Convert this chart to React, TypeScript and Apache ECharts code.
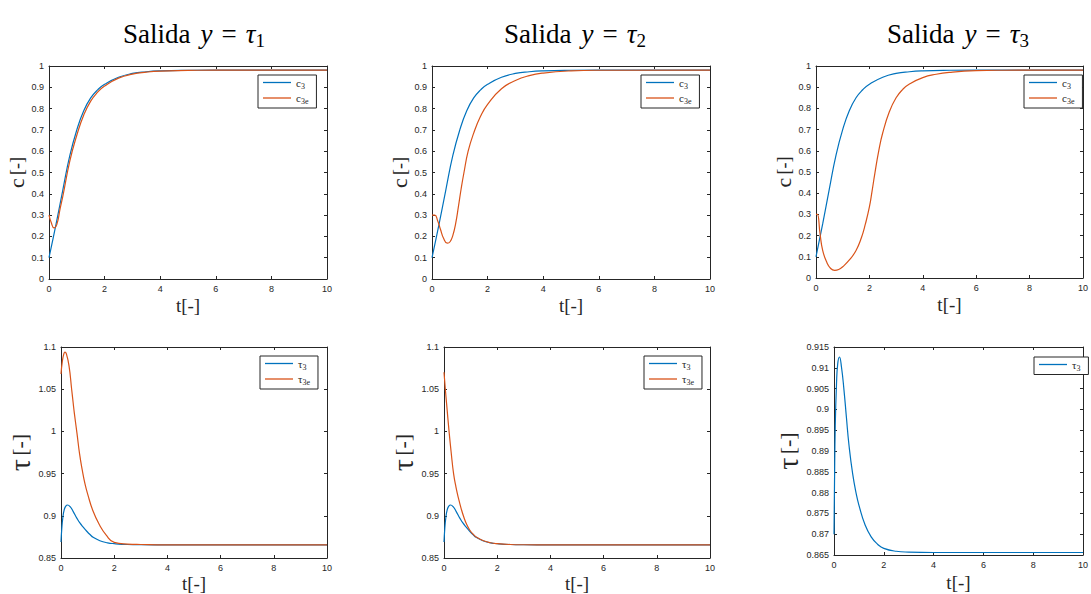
import React, { useEffect, useRef } from 'react';
import * as echarts from 'echarts';

// ---------- data ----------
const X_MIN = 0;
const X_MAX = 10;
const X_INTERVAL = 2;

// shared plant concentration c3 (top row, blue)
const T_C3 = [0, 0.25, 0.5, 0.75, 1, 1.25, 1.5, 1.75, 2, 2.5, 3, 3.5, 4, 5, 6, 8, 10];
const C3 = [0.1, 0.255, 0.42, 0.58, 0.7, 0.79, 0.85, 0.888, 0.914, 0.947, 0.965, 0.973, 0.977, 0.98, 0.981, 0.981, 0.981];

// estimate c3e, output y = tau1
const T_C3E_1 = [0, 0.08, 0.18, 0.28, 0.4, 0.5, 0.75, 1, 1.25, 1.5, 1.75, 2, 2.5, 3, 3.5, 4, 5, 6, 10];
const C3E_1 = [0.3, 0.265, 0.24, 0.255, 0.33, 0.39, 0.555, 0.675, 0.77, 0.835, 0.877, 0.906, 0.943, 0.962, 0.971, 0.976, 0.979, 0.981, 0.981];

// estimate c3e, output y = tau2
const T_C3E_2 = [0, 0.1, 0.2, 0.3, 0.42, 0.55, 0.65, 0.75, 0.85, 0.95, 1.05, 1.15, 1.3, 1.5, 1.75, 2, 2.5, 3, 3.5, 4, 5, 6, 10];
const C3E_2 = [0.3, 0.3, 0.275, 0.235, 0.19, 0.168, 0.175, 0.205, 0.26, 0.34, 0.425, 0.5, 0.6, 0.685, 0.765, 0.82, 0.893, 0.932, 0.955, 0.967, 0.977, 0.98, 0.981];

// estimate c3e, output y = tau3
const T_C3E_3 = [0, 0.05, 0.15, 0.25, 0.4, 0.55, 0.7, 0.85, 1, 1.25, 1.5, 1.7, 1.85, 2, 2.1, 2.2, 2.35, 2.5, 2.75, 3, 3.25, 3.5, 4, 4.5, 5, 6, 7, 10];
const C3E_3 = [0.3, 0.3, 0.21, 0.13, 0.075, 0.045, 0.036, 0.04, 0.053, 0.085, 0.13, 0.19, 0.255, 0.335, 0.41, 0.49, 0.6, 0.685, 0.785, 0.85, 0.89, 0.915, 0.945, 0.961, 0.97, 0.978, 0.98, 0.981];

// plant temperature tau3 (bottom left / middle, blue)
const T_TAU3 = [0, 0.03, 0.07, 0.12, 0.18, 0.25, 0.35, 0.46, 0.6, 0.71, 0.85, 0.96, 1.1, 1.21, 1.46, 1.75, 2, 2.5, 3, 4, 10];
const TAU3 = [0.869, 0.885, 0.898, 0.907, 0.9115, 0.9128, 0.9105, 0.905, 0.897, 0.8915, 0.886, 0.882, 0.8775, 0.8745, 0.8705, 0.868, 0.867, 0.866, 0.8657, 0.8656, 0.8656];

// estimate tau3e, output y = tau1
const T_TAU3E_1 = [0, 0.05, 0.1, 0.15, 0.2, 0.3, 0.4, 0.46, 0.5, 0.6, 0.7, 0.8, 0.9, 1, 1.2, 1.45, 1.7, 2, 2.5, 3, 4, 10];
const TAU3E_1 = [1.068, 1.083, 1.091, 1.094, 1.092, 1.078, 1.05, 1.033, 1.022, 0.998, 0.973, 0.954, 0.938, 0.926, 0.906, 0.889, 0.877, 0.8685, 0.8665, 0.866, 0.8656, 0.8656];

// estimate tau3e, output y = tau2
const T_TAU3E_2 = [0, 0.05, 0.1, 0.19, 0.27, 0.36, 0.45, 0.55, 0.65, 0.75, 0.85, 0.96, 1.1, 1.21, 1.46, 1.75, 2, 2.5, 3, 4, 10];
const TAU3E_2 = [1.07, 1.05, 1.032, 1.0, 0.975, 0.95, 0.934, 0.92, 0.908, 0.898, 0.89, 0.8835, 0.878, 0.8748, 0.8707, 0.8681, 0.867, 0.866, 0.8657, 0.8656, 0.8656];

// plant temperature tau3 (bottom right, blue)
const T_TAU3_R = [0, 0.02, 0.05, 0.1, 0.15, 0.22, 0.3, 0.4, 0.5, 0.6, 0.75, 0.9, 1, 1.25, 1.5, 1.75, 2, 2.5, 3, 4, 10];
const TAU3_R = [0.87, 0.882, 0.896, 0.906, 0.911, 0.9126, 0.9102, 0.9047, 0.898, 0.8915, 0.8845, 0.8795, 0.877, 0.8722, 0.8693, 0.8676, 0.8666, 0.8659, 0.8657, 0.8656, 0.8656];

const TITLE_SUBS = ['1', '2', '3'];

// ---------- styling ----------
const BLUE = '#0072BD';
const ORANGE = '#D95319';
const AXIS = '#262626';
const SERIF = '"Liberation Serif", "DejaVu Serif", serif';
const SANS = '"Liberation Sans", Arial, sans-serif';

const pairs = (t: number[], v: number[]) => t.map((x, i) => [x, v[i]]);

type Panel = {
  grid: { left: number; top: number; width: number; height: number };
  yMin: number;
  yMax: number;
  yInterval: number;
  ySym: string;
  yGap: number;
  xGap: number;
  legend: { left: number; top: number };
  series: { name: string; t: number[]; v: number[]; color: string }[];
};

export default function App() {
  const ref = useRef<HTMLDivElement>(null);

  useEffect(() => {
    const chart = echarts.init(ref.current!, null, { renderer: 'svg' });

    const panels: Panel[] = [
      {
        grid: { left: 49, top: 66, width: 278, height: 213 },
        yMin: 0, yMax: 1, yInterval: 0.1, ySym: 'c', yGap: 20, xGap: 17,
        legend: { left: 258, top: 75 },
        series: [
          { name: 'c3', t: T_C3, v: C3, color: BLUE },
          { name: 'c3e', t: T_C3E_1, v: C3E_1, color: ORANGE },
        ],
      },
      {
        grid: { left: 432, top: 66, width: 278, height: 213 },
        yMin: 0, yMax: 1, yInterval: 0.1, ySym: 'c', yGap: 17, xGap: 17,
        legend: { left: 641, top: 75 },
        series: [
          { name: 'c3', t: T_C3, v: C3, color: BLUE },
          { name: 'c3e', t: T_C3E_2, v: C3E_2, color: ORANGE },
        ],
      },
      {
        grid: { left: 816, top: 66, width: 276, height: 212 },
        yMin: 0, yMax: 1, yInterval: 0.1, ySym: 'c', yGap: 20, xGap: 17,
        legend: { left: 1024, top: 75 },
        series: [
          { name: 'c3', t: T_C3, v: C3, color: BLUE },
          { name: 'c3e', t: T_C3E_3, v: C3E_3, color: ORANGE },
        ],
      },
      {
        grid: { left: 61, top: 347, width: 266, height: 212 },
        yMin: 0.85, yMax: 1.1, yInterval: 0.05, ySym: 'τ', yGap: 24, xGap: 16,
        legend: { left: 260, top: 356 },
        series: [
          { name: 'τ3', t: T_TAU3, v: TAU3, color: BLUE },
          { name: 'τ3e', t: T_TAU3E_1, v: TAU3E_1, color: ORANGE },
        ],
      },
      {
        grid: { left: 444, top: 347, width: 266, height: 212 },
        yMin: 0.85, yMax: 1.1, yInterval: 0.05, ySym: 'τ', yGap: 24, xGap: 16,
        legend: { left: 644, top: 356 },
        series: [
          { name: 'τ3', t: T_TAU3, v: TAU3, color: BLUE },
          { name: 'τ3e', t: T_TAU3E_2, v: TAU3E_2, color: ORANGE },
        ],
      },
      {
        grid: { left: 834, top: 347, width: 258, height: 208 },
        yMin: 0.865, yMax: 0.915, yInterval: 0.005, ySym: 'τ', yGap: 32, xGap: 18,
        legend: { left: 1034, top: 357 },
        series: [{ name: 'τ3', t: T_TAU3_R, v: TAU3_R, color: BLUE }],
      },
    ];

    const tickStyle = { inside: true, length: 3, lineStyle: { color: AXIS, width: 1 } };
    const lineStyleAxis = { show: true, onZero: false, lineStyle: { color: AXIS, width: 1 } };
    const labelStyle = { fontSize: 9, color: AXIS, fontFamily: SANS };

    const grid: any[] = [];
    const xAxis: any[] = [];
    const yAxis: any[] = [];
    const series: any[] = [];
    const legend: any[] = [];

    panels.forEach((p, i) => {
      grid.push({ ...p.grid, containLabel: false });
      xAxis.push({
        type: 'value', gridIndex: i, min: X_MIN, max: X_MAX, interval: X_INTERVAL,
        axisLine: lineStyleAxis, axisTick: tickStyle, splitLine: { show: false },
        axisLabel: { ...labelStyle, margin: 5 },
        name: '{a|t}{b|[-]}', nameLocation: 'middle', nameGap: p.xGap,
        nameTextStyle: {
          rich: {
            a: { fontFamily: SERIF, fontSize: 19, color: AXIS },
            b: { fontFamily: SERIF, fontSize: 19, color: AXIS },
          },
        },
      });
      xAxis.push({
        type: 'value', gridIndex: i, position: 'top', min: X_MIN, max: X_MAX, interval: X_INTERVAL,
        axisLine: lineStyleAxis, axisTick: tickStyle, splitLine: { show: false },
        axisLabel: { show: false },
      });
      const big = p.ySym === 'τ';
      yAxis.push({
        type: 'value', gridIndex: i, min: p.yMin, max: p.yMax, interval: p.yInterval,
        axisLine: lineStyleAxis, axisTick: tickStyle, splitLine: { show: false },
        axisLabel: { ...labelStyle, margin: 5 },
        name: `{a|${p.ySym}} {b|[-]}`, nameLocation: 'middle', nameGap: p.yGap,
        nameTextStyle: {
          rich: {
            a: { fontFamily: SERIF, fontSize: big ? 30 : 22, color: AXIS },
            b: { fontFamily: SERIF, fontSize: big ? 22 : 18, color: AXIS },
          },
        },
      });
      yAxis.push({
        type: 'value', gridIndex: i, position: 'right', min: p.yMin, max: p.yMax, interval: p.yInterval,
        axisLine: lineStyleAxis, axisTick: tickStyle, splitLine: { show: false },
        axisLabel: { show: false },
      });
      p.series.forEach((s) => {
        series.push({
          type: 'line', name: s.name, xAxisIndex: 2 * i, yAxisIndex: 2 * i,
          data: pairs(s.t, s.v), smooth: 0.5, symbol: 'none', showSymbol: false,
          lineStyle: { color: s.color, width: 1.2 }, itemStyle: { color: s.color },
          clip: true,
        });
      });
      legend.push({
        show: true, orient: 'vertical', left: p.legend.left, top: p.legend.top,
        data: p.series.map((s) => ({ name: s.name, icon: 'rect' })),
        icon: 'rect',
        itemWidth: 28, itemHeight: 1.3, itemGap: 2,
        padding: [2, 8, 2, 5],
        borderColor: AXIS, borderWidth: 1, backgroundColor: '#ffffff',
        selectedMode: false,
        formatter: (name: string) => {
          const sym = name.charAt(0);
          const sub = name.slice(1);
          return `{m|${sym}}{s|${sub}}`;
        },
        textStyle: {
          rich: {
            m: { fontFamily: SERIF, fontSize: 11, color: AXIS, lineHeight: 16, verticalAlign: 'middle' },
            s: { fontFamily: SERIF, fontSize: 8, color: AXIS, lineHeight: 16, verticalAlign: 'bottom' },
          },
        },
      });
    });

    const titleCenters = [189, 570, 953];
    const title = titleCenters.map((cx, i) => ({
      left: cx, top: 13, textAlign: 'center',
      text: `{n|Salida}{i|y}{e|=}{t|τ}{s|${TITLE_SUBS[i]}}`,
      textStyle: {
        fontWeight: 'normal',
        rich: {
          n: { fontFamily: SERIF, fontSize: 27, fontWeight: 'normal', color: '#000', lineHeight: 32, verticalAlign: 'middle' },
          i: { fontFamily: SERIF, fontSize: 27, fontWeight: 'normal', fontStyle: 'italic', color: '#000', lineHeight: 32, verticalAlign: 'middle', padding: [0, 0, 0, 10] },
          e: { fontFamily: SERIF, fontSize: 27, fontWeight: 'normal', color: '#000', lineHeight: 32, verticalAlign: 'middle', padding: [0, 9, 0, 9] },
          t: { fontFamily: SERIF, fontSize: 27, fontWeight: 'normal', fontStyle: 'italic', color: '#000', lineHeight: 32, verticalAlign: 'middle' },
          s: { fontFamily: SERIF, fontSize: 19, fontWeight: 'normal', color: '#000', lineHeight: 32, verticalAlign: 'bottom' },
        },
      },
    }));

    chart.setOption({
      animation: false,
      backgroundColor: '#ffffff',
      title,
      grid,
      xAxis,
      yAxis,
      series,
      legend,
    });

    return () => chart.dispose();
  }, []);

  return (
    <div
      ref={ref}
      style={{ position: 'absolute', left: 0, top: 0, width: 1091, height: 594 }}
    />
  );
}
